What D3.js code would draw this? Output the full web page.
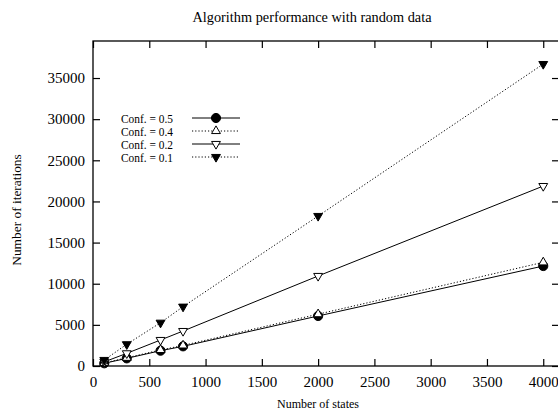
<!DOCTYPE html>
<html><head><meta charset="utf-8">
<script src="https://cdn.jsdelivr.net/npm/d3@7"></script>
<style>body{margin:0;background:#fff}</style>
</head><body><div id="container"></div>
<script>
const width = 558;
const height = 416;

const states = [100, 300, 600, 800, 2000, 4000];
const conf05 = [330, 930, 1860, 2390, 6080, 12150];
const conf04 = [380, 1000, 1950, 2500, 6300, 12600];
const conf02 = [500, 1540, 3160, 4250, 10940, 21870];
const conf01 = [730, 2640, 5260, 7210, 18230, 36700];
const seriesNames = ["Conf. = 0.5", "Conf. = 0.4", "Conf. = 0.2", "Conf. = 0.1"];
const xTicks = [0, 500, 1000, 1500, 2000, 2500, 3000, 3500, 4000];
const yTicks = [0, 5000, 10000, 15000, 20000, 25000, 30000, 35000];

const series = [
  {name: seriesNames[0], values: conf05, dash: null, shape: "circle", fill: "#000"},
  {name: seriesNames[1], values: conf04, dash: "1.2,2", shape: "up", fill: "#fff"},
  {name: seriesNames[2], values: conf02, dash: null, shape: "down", fill: "#fff"},
  {name: seriesNames[3], values: conf01, dash: "1.2,2", shape: "down", fill: "#000"}
];

const x = d3.scaleLinear().domain([0, 4140]).range([93, 559]);
const y = d3.scaleLinear().domain([0, 39500]).range([366, 41]);

const svg = d3.select("div#container")
    .append("svg")
    .attr("width", width)
    .attr("height", height)
    .style("font-family", "'Liberation Serif', serif")
    .style("font-size", "13px");

const marker = (g, shape, fill) => {
  if (shape === "circle") {
    g.append("path").attr("d", d3.symbol(d3.symbolCircle, 66)())
      .attr("fill", fill).attr("stroke", "#000");
  } else {
    g.append("path").attr("d", d3.symbol(d3.symbolTriangle, 34)())
      .attr("transform", shape === "down" ? "rotate(180)" : null)
      .attr("fill", fill).attr("stroke", "#000").attr("stroke-width", 1);
  }
};

// axes with inward ticks
const fmt = d3.format("d");
const gx = svg.append("g").attr("transform", `translate(0,${y(0)})`)
    .call(d3.axisBottom(x).tickValues(xTicks).tickFormat(fmt).tickSize(-7).tickPadding(10));
svg.append("g").attr("transform", `translate(0,${y.range()[1]})`)
    .call(d3.axisTop(x).tickValues(xTicks).tickSize(-7).tickFormat(""));
const gy = svg.append("g").attr("transform", `translate(${x(0)},0)`)
    .call(d3.axisLeft(y).tickValues(yTicks).tickFormat(fmt).tickSize(-7).tickPadding(8));
svg.append("g").attr("transform", `translate(${x.range()[1]},0)`)
    .call(d3.axisRight(y).tickValues(yTicks).tickSize(-7).tickFormat(""));

svg.selectAll(".domain").remove();
svg.selectAll(".tick line").attr("stroke", "#000").attr("stroke-width", 1.2);
svg.selectAll(".tick text")
    .attr("fill", "#000")
    .style("font-family", "'Liberation Serif', serif")
    .style("font-size", "15px");

svg.append("rect")
    .attr("x", x(0)).attr("y", y.range()[1])
    .attr("width", x.range()[1] - x(0)).attr("height", y(0) - y.range()[1])
    .attr("fill", "none").attr("stroke", "#000").attr("stroke-width", 1.3);

// lines and markers
const line = d3.line().x((d, i) => x(states[i])).y(d => y(d));
series.forEach(s => {
  svg.append("path").datum(s.values)
      .attr("d", line)
      .attr("fill", "none")
      .attr("stroke", "#000")
      .attr("stroke-width", 1)
      .attr("stroke-dasharray", s.dash);
});
series.forEach(s => {
  s.values.forEach((v, i) => {
    const g = svg.append("g").attr("transform", `translate(${x(states[i])},${y(v)})`);
    marker(g, s.shape, s.fill);
  });
});

// legend
series.forEach((s, i) => {
  const ly = 118 + i * 13;
  svg.append("text")
      .attr("x", 173).attr("y", ly + 4.5)
      .attr("text-anchor", "end")
      .attr("textLength", 52)
      .attr("lengthAdjust", "spacingAndGlyphs")
      .style("font-size", "12px")
      .text(s.name);
  svg.append("line")
      .attr("x1", 192).attr("x2", 240).attr("y1", ly).attr("y2", ly)
      .attr("stroke", "#000").attr("stroke-width", 1)
      .attr("stroke-dasharray", s.dash);
  const g = svg.append("g").attr("transform", `translate(216,${ly})`);
  marker(g, s.shape, s.fill);
});

// titles
svg.append("text")
    .attr("x", 312).attr("y", 22)
    .attr("text-anchor", "middle")
    .style("font-size", "14.3px")
    .text("Algorithm performance with random data");
svg.append("text")
    .attr("x", 318).attr("y", 408)
    .attr("text-anchor", "middle")
    .style("font-size", "12px")
    .text("Number of states");
svg.append("text")
    .attr("transform", "translate(21,210) rotate(-90)")
    .attr("text-anchor", "middle")
    .style("font-size", "13.4px")
    .text("Number of iterations");
</script>
</body></html>
